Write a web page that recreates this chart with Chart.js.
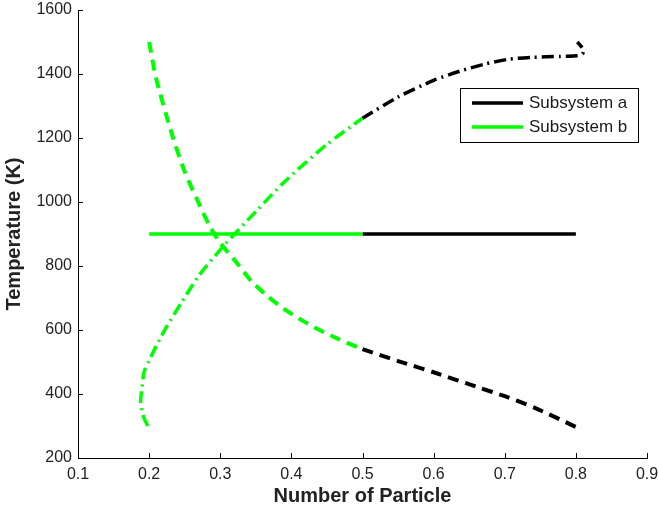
<!DOCTYPE html>
<html>
<head>
<meta charset="utf-8">
<script src="https://cdn.jsdelivr.net/npm/chart.js@4"></script>
<style>
  html, body { margin: 0; padding: 0; background: #fff; }
  #wrap { width: 659px; height: 513px; }
</style>
</head>
<body>
<div id="wrap"><canvas id="chartTemp" width="659" height="513"></canvas></div>
<script>
// dashed curve, decreasing (b: green part, a: black part)
const bDashX = [0.2, 0.21, 0.233, 0.25, 0.268, 0.285, 0.3, 0.325, 0.344, 0.367, 0.39, 0.415, 0.437, 0.464, 0.5]
const bDashY = [1500, 1385, 1205, 1095, 1005, 925, 872, 805, 752, 705, 665, 630, 603, 574, 540]
const aDashX = [0.5, 0.55, 0.6, 0.665, 0.7, 0.743, 0.8]
const aDashY = [540, 503, 468, 419, 393, 356, 297]

// dash-dot curve, increasing
const bDotX = [0.198, 0.192, 0.188, 0.19, 0.193, 0.2, 0.21, 0.225, 0.245, 0.27, 0.306, 0.35, 0.393, 0.45, 0.5]
const bDotY = [300, 330, 372, 420, 469, 505, 550, 612, 684, 770, 866, 970, 1069, 1180, 1262]
const aDotX = [0.5, 0.55, 0.6, 0.637, 0.672, 0.705, 0.738, 0.778, 0.8, 0.809, 0.811, 0.806, 0.802]
const aDotY = [1262, 1328, 1380, 1409, 1431, 1446, 1452, 1455, 1457, 1462, 1475, 1490, 1500]

// solid horizontal line
const bSolidX = [0.2, 0.5]
const bSolidY = [900, 900]
const aSolidX = [0.5, 0.8]
const aSolidY = [900, 900]

const xTicks = [0.1, 0.2, 0.3, 0.4, 0.5, 0.6, 0.7, 0.8, 0.9]
const yTicks = [200, 400, 600, 800, 1000, 1200, 1400, 1600]
const legendLabels = ['Subsystem a', 'Subsystem b']

const verde = '#00ff00'
const negro = '#000000'

const pts = (xs, ys) => xs.map((x, i) => ({ x: x, y: ys[i] }))

const serie = (xs, ys, color, dash, width) => ({
    data: pts(xs, ys),
    borderColor: color,
    borderWidth: width,
    borderDash: dash,
    borderCapStyle: 'butt',
    pointRadius: 0,
    tension: 0.25,
    fill: false
})

// ticks hacia adentro como en matlab
const ticksAdentro = {
    id: 'ticksAdentro',
    afterDraw(chart) {
        const ctx = chart.ctx
        const sx = chart.scales.x
        const sy = chart.scales.y
        const area = chart.chartArea
        ctx.save()
        ctx.strokeStyle = '#000'
        ctx.lineWidth = 1
        ctx.beginPath()
        xTicks.forEach(v => {
            const px = Math.round(sx.getPixelForValue(v)) + 0.5
            ctx.moveTo(px, area.bottom)
            ctx.lineTo(px, area.bottom - 5)
        })
        yTicks.forEach(v => {
            const py = Math.round(sy.getPixelForValue(v)) + 0.5
            ctx.moveTo(area.left, py)
            ctx.lineTo(area.left + 5, py)
        })
        ctx.stroke()
        ctx.restore()
    }
}

// leyenda con caja
const leyenda = {
    id: 'leyenda',
    afterDraw(chart) {
        const ctx = chart.ctx
        const x0 = 460.5, y0 = 88.5, w = 178, h = 54
        ctx.save()
        ctx.fillStyle = '#fff'
        ctx.fillRect(x0, y0, w, h)
        ctx.strokeStyle = '#000'
        ctx.lineWidth = 1
        ctx.strokeRect(x0, y0, w, h)
        const colores = [negro, verde]
        legendLabels.forEach((lab, i) => {
            const y = 103 + i * 24
            ctx.beginPath()
            ctx.strokeStyle = colores[i]
            ctx.lineWidth = 3.5
            ctx.moveTo(472, y)
            ctx.lineTo(523, y)
            ctx.stroke()
            ctx.fillStyle = '#1a1a1a'
            ctx.font = '17px "Liberation Sans", Arial, sans-serif'
            ctx.textBaseline = 'middle'
            ctx.fillText(lab, 529, y)
        })
        ctx.restore()
    }
}

const canvas = document.getElementById('chartTemp')
const context = canvas.getContext('2d')

const chartTemp = new Chart(context, {
    type: 'line',
    data: {
        datasets: [
            serie(bDashX, bDashY, verde, [11, 7], 4),
            serie(aDashX, aDashY, negro, [11, 7], 4),
            serie(bDotX, bDotY, verde, [12, 5, 2, 5], 3.5),
            serie(aDotX, aDotY, negro, [12, 5, 2, 5], 3.5),
            serie(bSolidX, bSolidY, verde, [], 3.5),
            serie(aSolidX, aSolidY, negro, [], 3.5)
        ]
    },
    options: {
        responsive: false,
        animation: false,
        layout: { padding: { top: 10, right: 12, left: 0, bottom: 0 } },
        plugins: {
            legend: { display: false },
            tooltip: { enabled: false }
        },
        scales: {
            x: {
                type: 'linear',
                min: 0.1,
                max: 0.9,
                afterBuildTicks: s => { s.ticks = xTicks.map(v => ({ value: v })) },
                afterFit: s => {
                    s.height = 55
                    s.paddingLeft = 0
                    s.paddingRight = 0
                },
                grid: { drawOnChartArea: false, drawTicks: false },
                border: { display: true, color: '#000', width: 1 },
                ticks: {
                    padding: 7,
                    color: '#222',
                    font: { family: '"Liberation Sans", Arial, sans-serif', size: 16 },
                    callback: v => v.toFixed(1)
                },
                title: {
                    display: true,
                    text: 'Number of Particle',
                    color: '#222',
                    padding: { top: 0, bottom: 5 },
                    font: { family: '"Liberation Sans", Arial, sans-serif', size: 20, weight: 'bold' }
                }
            },
            y: {
                type: 'linear',
                min: 200,
                max: 1600,
                afterBuildTicks: s => { s.ticks = yTicks.map(v => ({ value: v })) },
                afterFit: s => {
                    s.width = 78
                    s.paddingTop = 0
                    s.paddingBottom = 0
                },
                grid: { drawOnChartArea: false, drawTicks: false },
                border: { display: true, color: '#000', width: 1 },
                ticks: {
                    padding: 6,
                    color: '#222',
                    font: { family: '"Liberation Sans", Arial, sans-serif', size: 16 },
                    callback: v => String(v)
                },
                title: {
                    display: true,
                    text: 'Temperature (K)',
                    color: '#222',
                    padding: { top: 2, bottom: 0 },
                    font: { family: '"Liberation Sans", Arial, sans-serif', size: 20, weight: 'bold' }
                }
            }
        }
    },
    plugins: [ticksAdentro, leyenda]
})
</script>
</body>
</html>
